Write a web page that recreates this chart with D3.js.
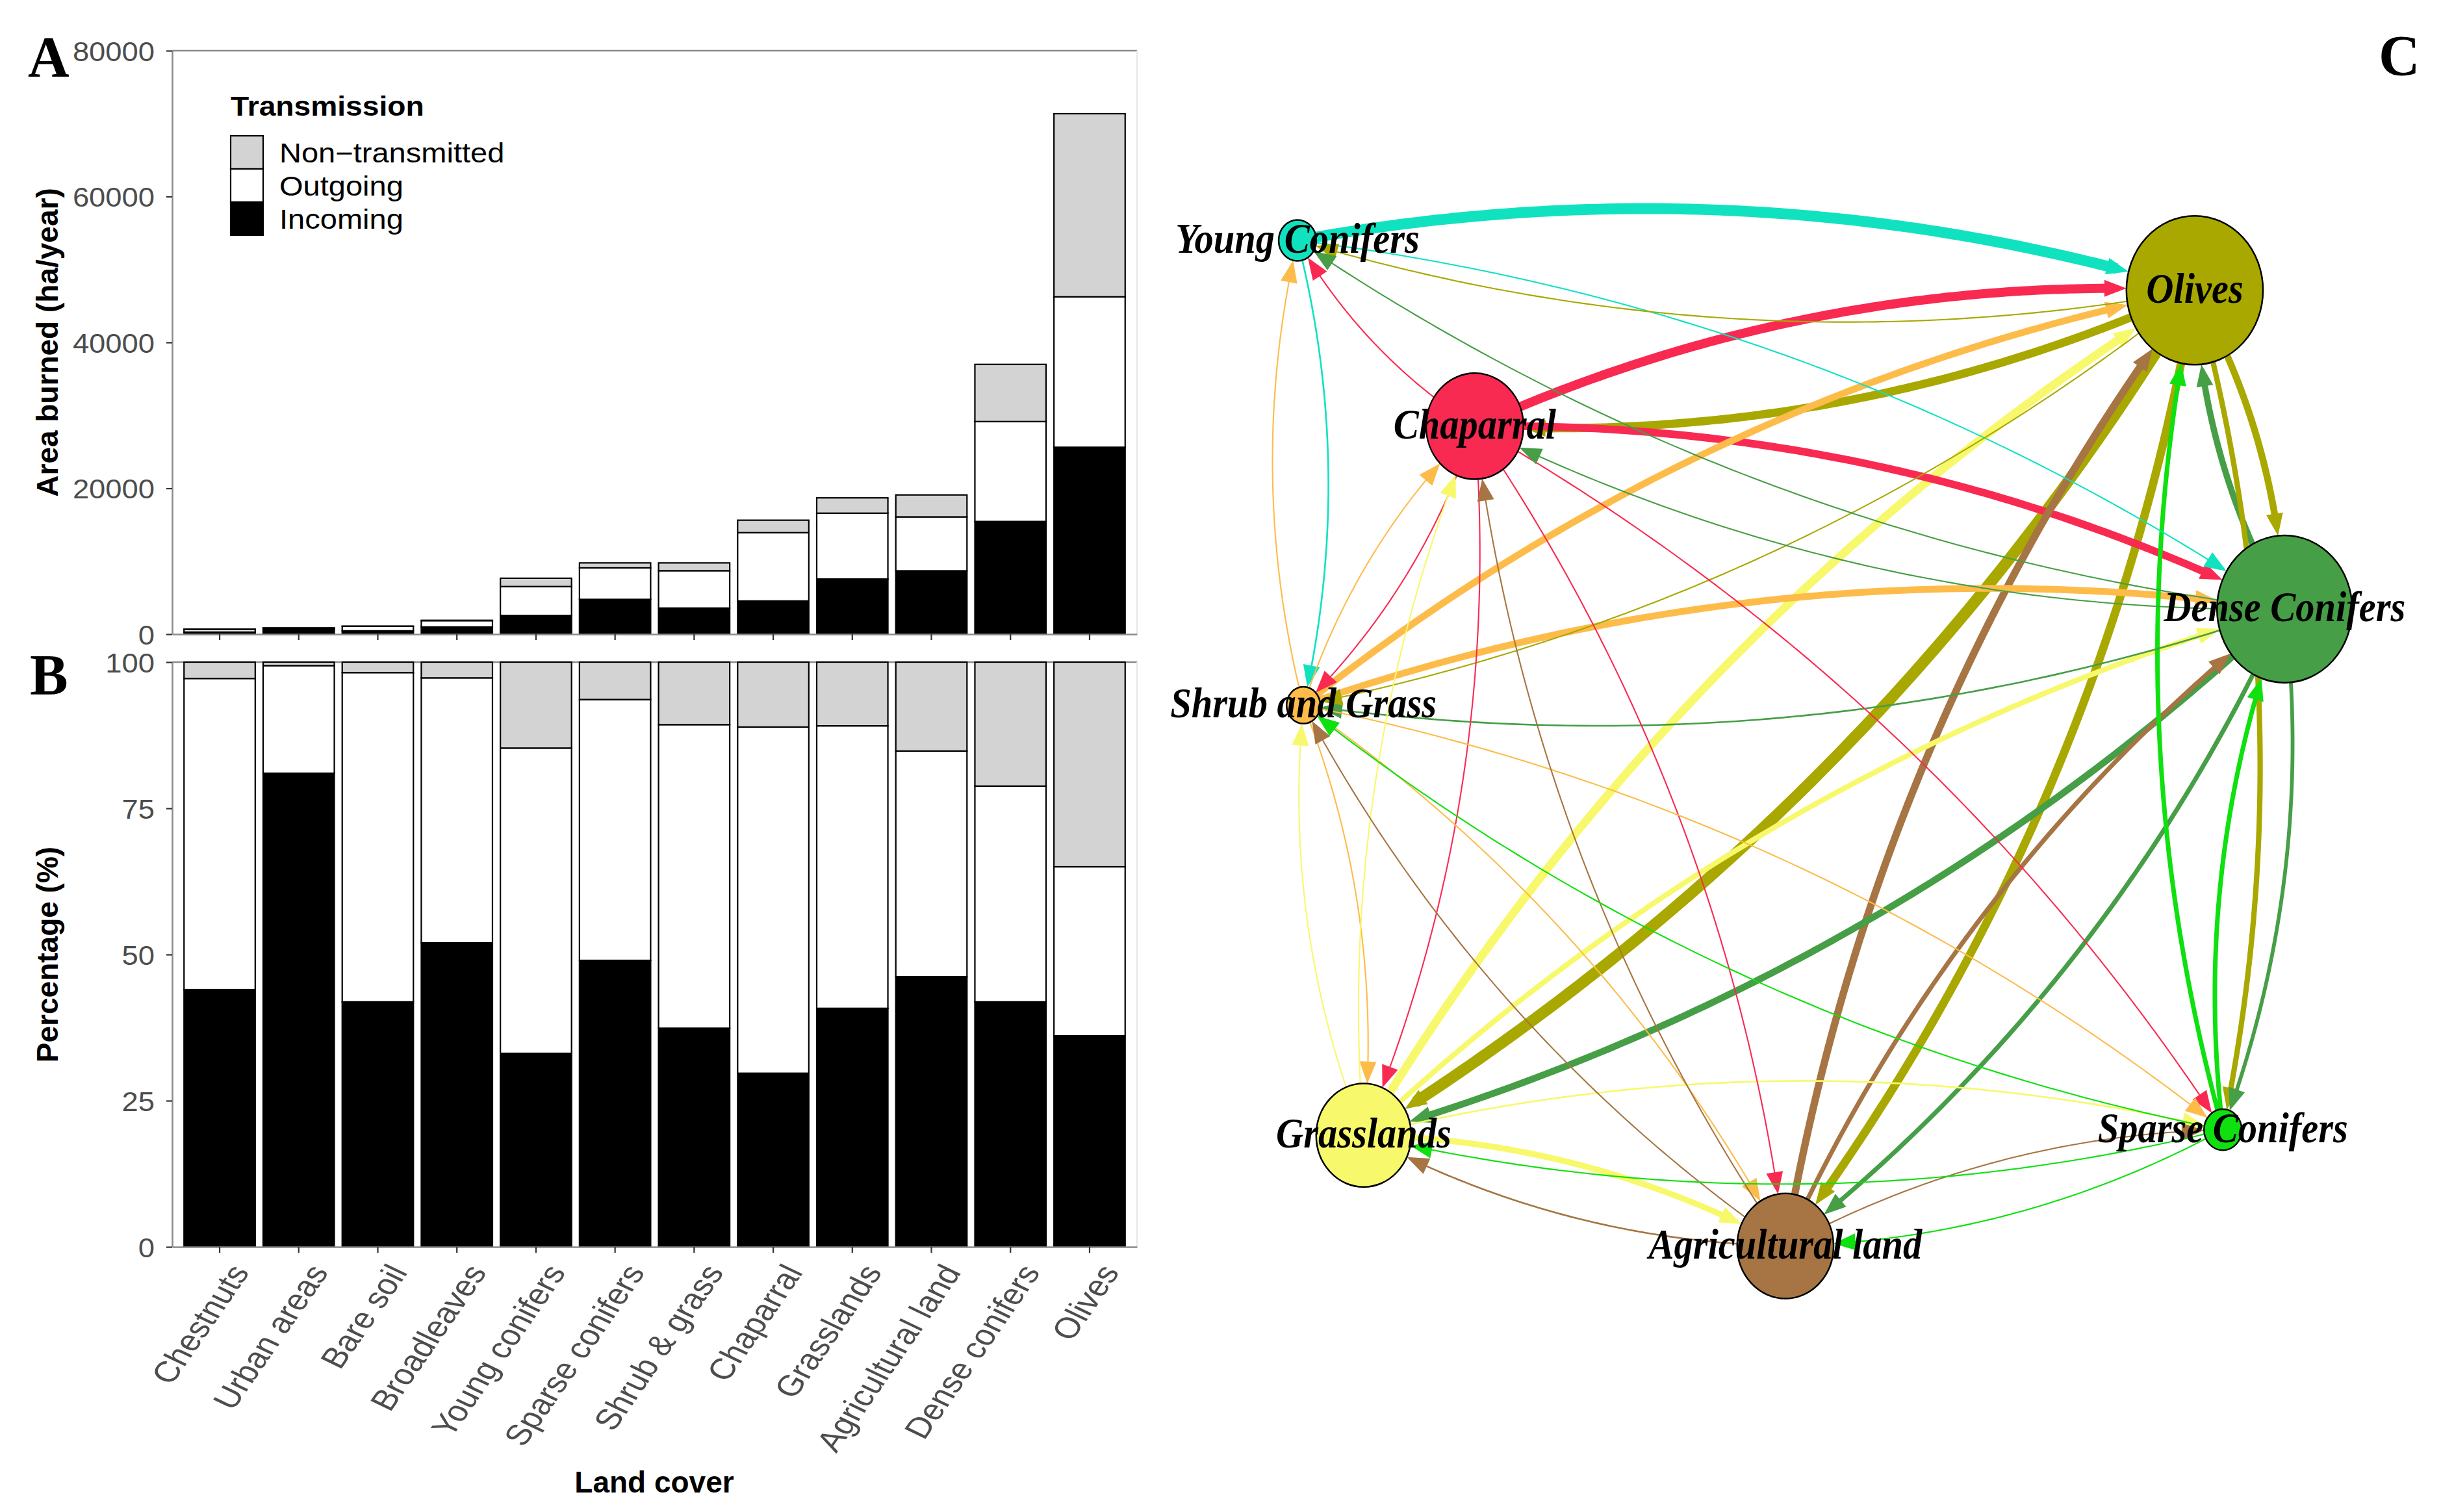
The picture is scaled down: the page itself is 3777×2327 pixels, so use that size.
<!DOCTYPE html>
<html><head><meta charset="utf-8">
<script src="https://cdn.jsdelivr.net/npm/d3@7"></script>
<style>body{margin:0;background:#fff} svg{display:block}</style>
</head><body>
<svg id="c" width="3777" height="2327"></svg>
<script>
// ---------------- DATA ----------------
const categories = ["Chestnuts","Urban areas","Bare soil","Broadleaves","Young conifers","Sparse conifers","Shrub & grass","Chaparral","Grasslands","Agricultural land","Dense conifers","Olives"];
// Panel A: area burned (ha/year)
const incomingHa = [290, 690, 460, 990, 2560, 4770, 3580, 4550, 7560, 8690, 15450, 25630];
const outgoingHa = [370, 155, 620, 860, 3970, 4320, 5120, 9370, 9030, 7390, 13700, 20620];
const nonTransHa = [20, 5, 20, 50, 1140, 680, 1070, 1705, 2100, 3010, 7840, 25110];
// Panel B: percentage (%)
const incomingPct = [44.0, 81.0, 41.9, 52.0, 33.1, 49.0, 37.4, 29.7, 40.8, 46.2, 41.9, 36.1];
const outgoingPct = [53.2, 18.4, 56.3, 45.3, 52.2, 44.6, 51.9, 59.2, 48.3, 38.6, 36.9, 28.9];
const nonTransPct = [2.8, 0.6, 1.8, 2.7, 14.7, 6.4, 10.7, 11.1, 10.9, 15.2, 21.2, 35.0];
const yTicksA = [0, 20000, 40000, 60000, 80000];
const yTicksB = [0, 25, 50, 75, 100];
const legendTitle = "Transmission";
const legendLabels = ["Non\u2212transmitted", "Outgoing", "Incoming"];

// Panel C: network
const nodeNames = ["Young Conifers","Olives","Chaparral","Dense Conifers","Shrub and Grass","Grasslands","Agricultural land","Sparse Conifers"];
const nodeX = [-1.0, 0.817, -0.641, 0.999, -0.988, -0.866, -0.012, 0.874];
const nodeY = [-1.0, -0.901, -0.631, -0.268, -0.077, 0.777, 0.997, 0.766];
const nodeSize = [8.05, 29.2, 20.8, 28.9, 7.2, 20.3, 20.6, 8.05];
const edgeFrom   = [0,0,0, 1,1,1,1,1,1,1, 2,2,2,2,2,2,2, 3,3,3,3,3,3,3, 4,4,4,4,4,4,4, 5,5,5,5,5,5, 6,6,6,6,6,6, 7,7,7,7,7];
const edgeTo     = [1,3,4, 0,2,5,6,7,3,4, 1,3,0,4,5,6,7, 1,0,2,4,5,6,7, 1,3,0,2,5,6,7, 1,3,4,2,6,7, 1,3,4,2,5,7, 1,3,4,5,6];
const edgeWeight = [9.5,1.2,1.5, 1.2,7.3,10,7.3,4.7,6,1.2, 8,6.7,1.2,1.2,1.2,1.2,1.2, 5.5,1.2,1.2,1.5,6,4,3.3, 6,6,1.2,1.2,1.2,1.2,1.2, 7.3,4.7,1.2,1.2,5.3,1.5, 6.5,4,1.2,1.2,1.5,1.2, 4,4,1.2,1.2,1.2];

// ---------------- STYLE ----------------
const svg = d3.select("#c");
const GREY_TXT = "#4D4D4D";
const keys = ["Incoming","Outgoing","Non-transmitted"];
const fillOf = {"Incoming":"#000000","Outgoing":"#FFFFFF","Non-transmitted":"#D3D3D3"};
const nodeColors = ["#10E2C0","#A8A800","#F92A52","#469E46","#FDBC4A","#F8F86C","#A67543","#0FE00F"];

const x = d3.scaleBand().domain(categories).range([265, 1750]).paddingInner(0.1).paddingOuter(0.15);
const yA = d3.scaleLinear().domain([0, 80000]).range([976, 78]);
const yB = d3.scaleLinear().domain([0, 100]).range([1919, 1019]);

function drawPanel(yScale, inc, out, non, ticks) {
  const rows = categories.map((c, i) => ({cat: c, "Incoming": inc[i], "Outgoing": out[i], "Non-transmitted": non[i]}));
  const series = d3.stack().keys(keys)(rows);
  const top = yScale.range()[1], bot = yScale.range()[0];
  const g = svg.append("g");
  g.append("line").attr("x1", 265).attr("x2", 1750).attr("y1", top).attr("y2", top).attr("stroke", "#8a8a8a").attr("stroke-width", 2.5);
  g.append("line").attr("x1", 1750).attr("x2", 1750).attr("y1", top).attr("y2", bot).attr("stroke", "#e6e6e6").attr("stroke-width", 2);
  series.forEach(s => {
    g.append("g").selectAll("rect").data(s).join("rect")
      .attr("x", d => x(d.data.cat))
      .attr("width", x.bandwidth())
      .attr("y", d => yScale(d[1]))
      .attr("height", d => Math.max(0, yScale(d[0]) - yScale(d[1])))
      .attr("fill", fillOf[s.key])
      .attr("stroke", "#000").attr("stroke-width", 2.2);
  });
  const ay = g.append("g").attr("transform", "translate(265,0)")
    .call(d3.axisLeft(yScale).tickValues(ticks).tickSize(9).tickSizeOuter(0).tickPadding(16).tickFormat(d3.format("d")));
  ay.select(".domain").attr("stroke", "#8a8a8a").attr("stroke-width", 2.5);
  ay.selectAll(".tick line").attr("stroke", "#333").attr("stroke-width", 2.2);
  ay.selectAll(".tick text").attr("font-family", "Liberation Sans, Arial, sans-serif").attr("font-size", 42)
    .attr("fill", GREY_TXT).attr("dy", "0.36em").attr("transform", "scale(1.08,1)");
  const ax = g.append("g").attr("transform", `translate(0,${bot})`)
    .call(d3.axisBottom(x).tickSize(9).tickSizeOuter(0).tickFormat(""));
  ax.select(".domain").attr("stroke", "#8a8a8a").attr("stroke-width", 2.5);
  ax.selectAll(".tick line").attr("stroke", "#333").attr("stroke-width", 2.2);
}
drawPanel(yA, incomingHa, outgoingHa, nonTransHa, yTicksA);
drawPanel(yB, incomingPct, outgoingPct, nonTransPct, yTicksB);

// rotated x labels
svg.append("g").selectAll("text").data(categories).join("text")
  .attr("transform", d => `translate(${x(d) + x.bandwidth() / 2 + 47},1958) scale(1.2,1) rotate(-60)`)
  .attr("text-anchor", "end")
  .attr("font-family", "Liberation Sans, Arial, sans-serif").attr("font-size", 45)
  .attr("fill", GREY_TXT).text(d => d);

// axis titles
const titleFont = "Liberation Sans, Arial, sans-serif";
svg.append("text").attr("transform", "translate(89,527) rotate(-90)").attr("text-anchor", "middle")
  .attr("font-family", titleFont).attr("font-weight", "bold").attr("font-size", 46).text("Area burned (ha/year)");
svg.append("text").attr("transform", "translate(89,1469) rotate(-90)").attr("text-anchor", "middle")
  .attr("font-family", titleFont).attr("font-weight", "bold").attr("font-size", 46).text("Percentage (%)");
svg.append("text").attr("x", 1007).attr("y", 2297).attr("text-anchor", "middle")
  .attr("font-family", titleFont).attr("font-weight", "bold").attr("font-size", 46).text("Land cover");

// legend
const lg = svg.append("g").attr("transform", "translate(355,0)");
lg.append("text").attr("transform", "translate(0,178) scale(1.1,1)").attr("font-family", titleFont)
  .attr("font-weight", "bold").attr("font-size", 42).text(legendTitle);
const legKeys = ["Non-transmitted", "Outgoing", "Incoming"];
legKeys.forEach((k, i) => {
  lg.append("rect").attr("x", 0).attr("y", 209 + i * 51).attr("width", 50).attr("height", 51)
    .attr("fill", fillOf[k]).attr("stroke", "#000").attr("stroke-width", 2.2);
  lg.append("text").attr("transform", `translate(75,${235 + i * 51 + 15}) scale(1.12,1)`)
    .attr("font-family", titleFont).attr("font-size", 42).attr("fill", "#000").text(legendLabels[i]);
});

// panel letters
const serif = "Liberation Serif, Times New Roman, serif";
[["A", 43, 117], ["B", 46, 1068], ["C", 3661, 115]].forEach(([t, px, py]) => {
  svg.append("text").attr("x", px).attr("y", py).attr("font-family", serif).attr("font-weight", "bold")
    .attr("font-size", 88).text(t);
});

// ---------------- NETWORK ----------------
const NX = d3.scaleLinear().domain([-1, 1]).range([1997, 3517]);
const NY = d3.scaleLinear().domain([-1, 1]).range([370, 1920]);
const RS = d3.scaleLinear().domain([0, 30]).range([0, 108]);
const WS = d3.scaleLinear().domain([0, 10]).range([0, 17.5]);
const nodes = nodeNames.map((n, i) => ({name: n, x: NX(nodeX[i]), y: NY(nodeY[i]), rx: RS(nodeSize[i]), ry: RS(nodeSize[i]) * 1.09, color: nodeColors[i]}));
const edges = edgeFrom.map((f, i) => ({from: f, to: edgeTo[i], w: WS(edgeWeight[i])}));

const K = 0.12, LA = 34, HW = 13;
function Q(p0, c, p2, t) { const u = 1 - t; return [u*u*p0[0] + 2*u*t*c[0] + t*t*p2[0], u*u*p0[1] + 2*u*t*c[1] + t*t*p2[1]]; }
function inside(n, p) { const a = (p[0]-n.x)/n.rx, b = (p[1]-n.y)/n.ry; return a*a + b*b < 1; }
const lineGen = d3.line();
const eg = svg.append("g");
edges.slice().sort((a, b) => b.w - a.w).forEach(e => {
  const s = nodes[e.from], t = nodes[e.to];
  const p0 = [s.x, s.y], p2 = [t.x, t.y];
  const dx = t.x - s.x, dy = t.y - s.y;
  const c = [(s.x + t.x)/2 + dy*K, (s.y + t.y)/2 - dx*K];
  let lo = 0, hi = 0.5;
  for (let k = 0; k < 40; k++) { const m = (lo+hi)/2; if (inside(s, Q(p0,c,p2,m))) lo = m; else hi = m; }
  const tS = hi;
  lo = 0.5; hi = 1;
  for (let k = 0; k < 40; k++) { const m = (lo+hi)/2; if (inside(t, Q(p0,c,p2,m))) hi = m; else lo = m; }
  const tE = lo;
  const tip = Q(p0,c,p2,tE);
  let tb = tE, tl = tE;
  const lineBack = e.w > 2*HW ? 3 : LA*0.55;
  while (tb > tS) { tb -= 0.0005; const p = Q(p0,c,p2,tb); if (Math.hypot(p[0]-tip[0], p[1]-tip[1]) >= LA) break; }
  while (tl > tS) { tl -= 0.0005; const p = Q(p0,c,p2,tl); if (Math.hypot(p[0]-tip[0], p[1]-tip[1]) >= lineBack) break; }
  const pts = d3.range(0, 81).map(i => Q(p0,c,p2, tS + (tl - tS)*i/80));
  eg.append("path").attr("d", lineGen(pts)).attr("fill", "none").attr("stroke", s.color).attr("stroke-width", e.w);
  const bp = Q(p0,c,p2,tb);
  const L = Math.hypot(tip[0]-bp[0], tip[1]-bp[1]);
  const ux = (tip[0]-bp[0])/L, uy = (tip[1]-bp[1])/L;
  const bx = tip[0] - ux*LA, by = tip[1] - uy*LA;
  const tri = [tip, [bx - uy*HW, by + ux*HW], [bx + uy*HW, by - ux*HW]];
  eg.append("path").attr("d", d3.line()(tri) + "Z").attr("fill", s.color);
});

const ng = svg.append("g");
ng.selectAll("ellipse").data(nodes).join("ellipse")
  .attr("cx", d => d.x).attr("cy", d => d.y).attr("rx", d => d.rx).attr("ry", d => d.ry)
  .attr("fill", d => d.color).attr("stroke", "#000").attr("stroke-width", 2.5);
ng.selectAll("text").data(nodes).join("text")
  .attr("transform", d => `translate(${d.x},${d.y + 19}) scale(0.9,1)`)
  .attr("text-anchor", "middle").attr("font-family", serif).attr("font-weight", "bold").attr("font-style", "italic")
  .attr("font-size", 65).attr("fill", "#000").text(d => d.name);
</script>
</body></html>
